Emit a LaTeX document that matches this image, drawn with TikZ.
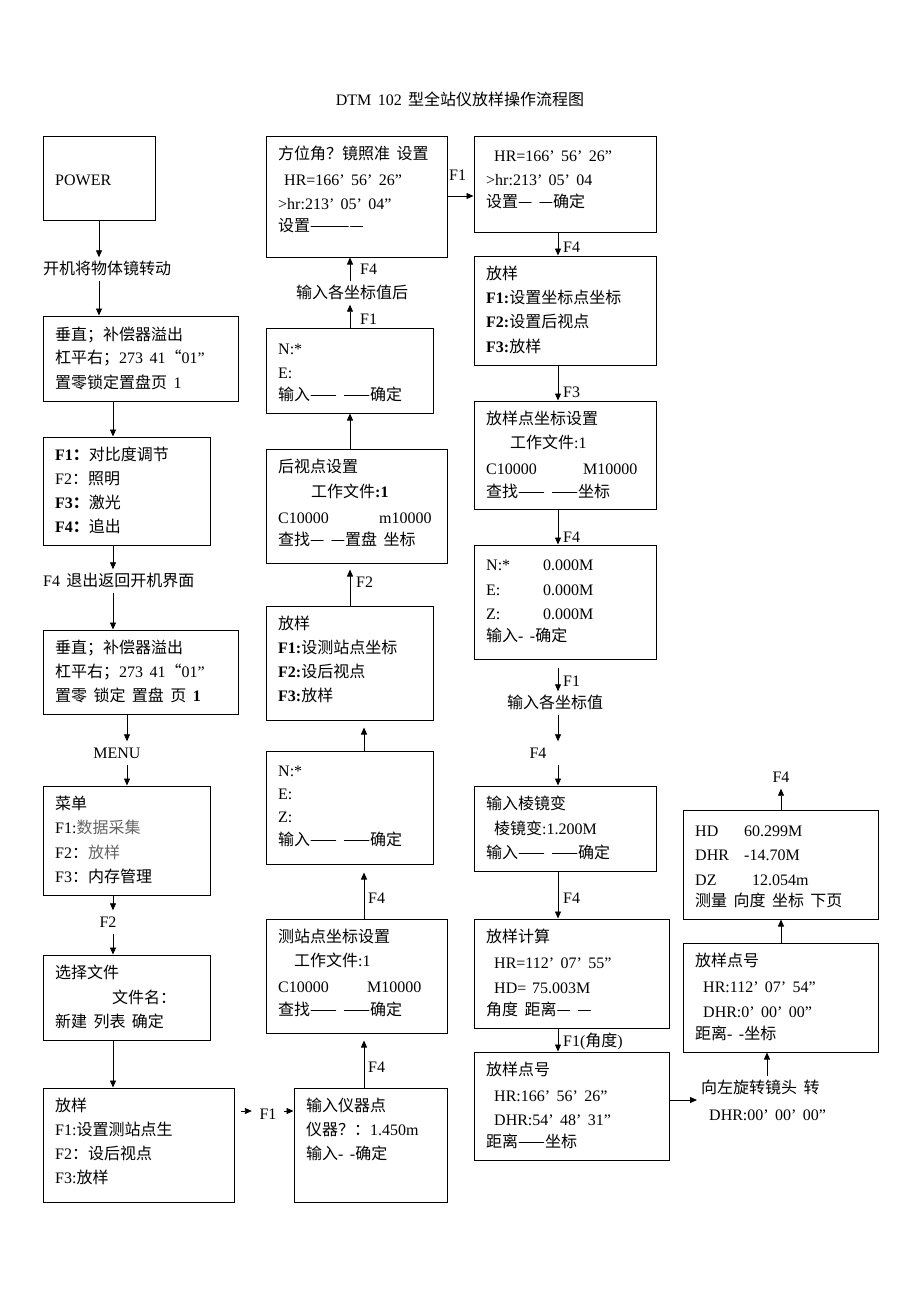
\documentclass[tikz,border=0pt]{standalone}
\usepackage{fontspec}
\usepackage{graphicx}
\usetikzlibrary{arrows.meta,calc}
\setmainfont{Liberation Serif}[WordSpace=1.6]
\newfontfamily\cjk{Noto Sans CJK SC}
\XeTeXinterchartokenstate=1
\newXeTeXintercharclass\cjkclass
\newcount\cjkc
\cjkc="4E00 \loop\XeTeXcharclass\cjkc=\cjkclass \advance\cjkc by 1 \ifnum\cjkc<"A000 \repeat
\cjkc="3000 \loop\XeTeXcharclass\cjkc=\cjkclass \advance\cjkc by 1 \ifnum\cjkc<"3040 \repeat
\cjkc="FF00 \loop\XeTeXcharclass\cjkc=\cjkclass \advance\cjkc by 1 \ifnum\cjkc<"FFF0 \repeat
\XeTeXcharclass"2014=\cjkclass
\XeTeXcharclass"201C=\cjkclass
\XeTeXinterchartoks 0 \cjkclass = {\cjk}
\XeTeXinterchartoks 4095 \cjkclass = {\cjk}
\XeTeXinterchartoks \cjkclass 0 = {\rmfamily}
\XeTeXinterchartoks \cjkclass 4095 = {\rmfamily}
\definecolor{txtgray}{gray}{0.4}
\tikzset{
  every node/.style={font=\fontsize{16pt}{20pt}\selectfont},
  box/.style={draw, line width=1pt, inner sep=0pt},
  txt/.style={inner sep=0pt, text height=17pt, text depth=6pt, anchor=west},
  lab/.style={inner sep=0pt, text height=17pt, text depth=6pt},
  arr/.style={draw, line width=0.8pt, -{Triangle[length=7pt,width=6pt]}}
}
\newcommand\bx[5]{\node[box, minimum width={#4-#2}, minimum height={#5-#3}] (#1) at ({(#2+#4)/2},{(#3+#5)/2}) {};}
\begin{document}
\begin{tikzpicture}[x=1pt,y=-1pt]
\fill[white] (0,0) rectangle (920,1302);
\useasboundingbox (0,0) rectangle (920,1302);
\coordinate (x99) at (99,0);
\coordinate (x113) at (113,0);
\coordinate (x127) at (127,0);
\coordinate (x350) at (350,0);
\coordinate (x364) at (364,0);
\coordinate (x558) at (558,0);
\coordinate (x767) at (767,0);
\coordinate (x781) at (781,0);
\coordinate (y196) at (0,196);
\coordinate (y1100) at (0,1100);
\coordinate (y1111) at (0,1111);

\node[lab] (title) at (460,100) {DTM 102 型全站仪放样操作流程图};

% ---------- column 1 ----------
\bx{pw}{43}{136}{155}{220}
\node[txt] (pw-1) at (55,180) {POWER};
\node[txt] (t1) at (43,269) {开机将物体镜转动};
\bx{v1}{43}{316}{238}{401}
\node[txt] (v1-1) at (55,335) {垂直；补偿器溢出};
\node[txt] (v1-2) at (55,358) {杠平右；273 41“01”};
\node[txt] (v1-3) at (55,383) {置零锁定置盘页 1};
\bx{fk}{43}{437}{210}{545}
\node[txt] (fk-1) at (55,455) {\textbf{F1：}对比度调节};
\node[txt] (fk-2) at (55,479) {F2：照明};
\node[txt] (fk-3) at (55,503) {\textbf{F3：}激光};
\node[txt] (fk-4) at (55,527) {\textbf{F4：}追出};
\node[txt] (t2) at (43,581) {F4 退出返回开机界面};
\bx{v2}{43}{630}{238}{714}
\node[txt] (v2-1) at (55,648) {垂直；补偿器溢出};
\node[txt] (v2-2) at (55,672) {杠平右；273 41“01”};
\node[txt] (v2-3) at (55,696) {置零 锁定 置盘 页 \textbf{1}};
\node[lab] (t3) at (117,753) {MENU};
\bx{mn}{43}{786}{210}{895}
\node[txt] (mn-1) at (55,804) {菜单};
\node[txt] (mn-2) at (55,828) {F1:\textcolor{txtgray}{数据采集}};
\node[txt] (mn-3) at (55,853) {F2：\textcolor{txtgray}{放样}};
\node[txt] (mn-4) at (55,877) {F3：内存管理};
\node[lab] (t4) at (108,922) {F2};
\bx{sf}{43}{955}{210}{1040}
\node[txt] (sf-1) at (55,973) {选择文件};
\node[txt] (sf-2) at (112,998) {文件名：};
\node[txt] (sf-3) at (55,1022) {新建 列表 确定};
\bx{fy1}{43}{1088}{234}{1202}
\node[txt] (fy1-1) at (55,1106) {放样};
\node[txt] (fy1-2) at (55,1130) {F1:设置测站点生};
\node[txt] (fy1-3) at (55,1154) {F2：设后视点};
\node[txt] (fy1-4) at (55,1178) {F3:放样};
\node[lab, inner xsep=7.5pt] (t5) at (268,1114) {F1};

% ---------- column 2 ----------
\bx{yq}{294}{1088}{447}{1202}
\node[txt] (yq-1) at (306,1106) {输入仪器点};
\node[txt] (yq-2) at (306,1130) {仪器？：1.450m};
\node[txt] (yq-3) at (306,1154) {输入- -确定};
\node[txt] (l1) at (368,1067) {F4};
\bx{cz}{266}{919}{447}{1033}
\node[txt] (cz-1) at (278,937) {测站点坐标设置};
\node[txt] (cz-2) at (294,961) {工作文件:1};
\node[txt] (cz-3) at (278,987) {\makebox[89pt][l]{C10000}M10000};
\node[txt] (cz-4) at (278,1010) {查找—— ——确定};
\node[txt] (l2) at (368,898) {F4};
\bx{nez}{266}{751}{433}{864}
\node[txt] (nez-1) at (278,771) {N:*};
\node[txt] (nez-2) at (278,794) {E:};
\node[txt] (nez-3) at (278,817) {Z:};
\node[txt] (nez-4) at (278,840) {输入—— ——确定};
\bx{fy2}{266}{606}{433}{720}
\node[txt] (fy2-1) at (278,624) {放样};
\node[txt] (fy2-2) at (278,648) {\textbf{F1:}设测站点坐标};
\node[txt] (fy2-3) at (278,672) {\textbf{F2:}设后视点};
\node[txt] (fy2-4) at (278,696) {\textbf{F3:}放样};
\node[txt] (l3) at (356,582) {F2};
\bx{hs}{266}{449}{447}{563}
\node[txt] (hs-1) at (278,467) {后视点设置};
\node[txt] (hs-2) at (311,492) {工作文件\textbf{:1}};
\node[txt] (hs-3) at (278,518) {\makebox[101pt][l]{C10000}m10000};
\node[txt] (hs-4) at (278,540) {查找— —置盘 坐标};
\bx{ne}{266}{328}{433}{413}
\node[txt] (ne-1) at (278,349) {N:*};
\node[txt] (ne-2) at (278,373) {E:};
\node[txt] (ne-3) at (278,395) {输入—— ——确定};
\node[txt] (l4) at (360,319) {F1};
\node[lab] (t6) at (352,293) {输入各坐标值后};
\node[txt] (l5) at (360,269) {F4};
\bx{fw}{266}{136}{447}{257}
\node[txt] (fw-1) at (278,154) {方位角？镜照准 设置};
\node[txt] (fw-2) at (284,180) {HR=166’ 56’ 26”};
\node[txt] (fw-3) at (278,204) {>hr:213’ 05’ 04”};
\node[txt] (fw-4) at (278,226) {设置————};
\node[txt] (l6) at (449,175) {F1};

% ---------- column 3 ----------
\bx{hr}{474}{136}{656}{232}
\node[txt] (hr-1) at (494,156) {HR=166’ 56’ 26”};
\node[txt] (hr-2) at (486,180) {>hr:213’ 05’ 04};
\node[txt] (hr-3) at (486,202) {设置— —确定};
\node[txt] (l7) at (563,247) {F4};
\bx{fy3}{474}{256}{656}{365}
\node[txt] (fy3-1) at (486,274) {放样};
\node[txt] (fy3-2) at (486,298) {\textbf{F1:}设置坐标点坐标};
\node[txt] (fy3-3) at (486,322) {\textbf{F2:}设置后视点};
\node[txt] (fy3-4) at (486,347) {\textbf{F3:}放样};
\node[txt] (l8) at (563,392) {F3};
\bx{fz}{474}{401}{656}{509}
\node[txt] (fz-1) at (486,419) {放样点坐标设置};
\node[txt] (fz-2) at (510,443) {工作文件:1};
\node[txt] (fz-3) at (486,469) {\makebox[97pt][l]{C10000}M10000};
\node[txt] (fz-4) at (486,492) {查找—— ——坐标};
\node[txt] (l9) at (563,537) {F4};
\bx{nz}{474}{545}{656}{659}
\node[txt] (nz-1) at (486,565) {\makebox[57pt][l]{N:*}0.000M};
\node[txt] (nz-2) at (486,590) {\makebox[57pt][l]{E:}0.000M};
\node[txt] (nz-3) at (486,614) {\makebox[57pt][l]{Z:}0.000M};
\node[txt] (nz-4) at (486,636) {输入- -确定};
\node[txt] (l10) at (563,681) {F1};
\node[lab] (t7) at (555,703) {输入各坐标值};
\node[lab] (t8) at (538,753) {F4};
\bx{lj}{474}{786}{656}{871}
\node[txt] (lj-1) at (486,804) {输入棱镜变};
\node[txt] (lj-2) at (494,829) {棱镜变:1.200M};
\node[txt] (lj-3) at (486,853) {输入—— ——确定};
\node[txt] (l11) at (563,898) {F4};
\bx{js}{474}{919}{669}{1028}
\node[txt] (js-1) at (486,937) {放样计算};
\node[txt] (js-2) at (494,963) {HR=112’ 07’ 55”};
\node[txt] (js-3) at (494,988) {\makebox[38pt][l]{HD=}75.003M};
\node[txt] (js-4) at (486,1010) {角度 距离— —};
\node[txt] (l12) at (563,1041) {F1(角度)};
\bx{fd3}{474}{1052}{669}{1160}
\node[txt] (fd3-1) at (486,1070) {放样点号};
\node[txt] (fd3-2) at (494,1096) {HR:166’ 56’ 26”};
\node[txt] (fd3-3) at (494,1120) {DHR:54’ 48’ 31”};
\node[txt] (fd3-4) at (486,1142) {距离——坐标};
\node[txt] (t9) at (701,1088) {向左旋转镜头 转};
\node[txt] (t10) at (709,1115) {DHR:00’ 00’ 00”};

% ---------- column 4 ----------
\bx{fd4}{683}{943}{878}{1052}
\node[txt] (fd4-1) at (695,961) {放样点号};
\node[txt] (fd4-2) at (703,987) {HR:112’ 07’ 54”};
\node[txt] (fd4-3) at (703,1012) {DHR:0’ 00’ 00”};
\node[txt] (fd4-4) at (695,1034) {距离- -坐标};
\bx{hd}{683}{810}{878}{919}
\node[txt] (hd-1) at (695,831) {\makebox[49pt][l]{HD}60.299M};
\node[txt] (hd-2) at (695,855) {\makebox[49pt][l]{DHR}-14.70M};
\node[txt] (hd-3) at (695,880) {\makebox[57pt][l]{DZ}12.054m};
\node[txt] (hd-4) at (695,901) {测量 向度 坐标 下页};
\node[lab] (t11) at (781,777) {F4};

% ---------- connectors ----------
\draw[arr] (pw.south) -- (t1.north -| pw.south);
\draw[arr] (t1.south -| pw.south) -- (v1.north -| pw.south);
\draw[arr] (v1.south -| x113) -- (fk.north -| x113);
\draw[arr] (fk.south -| x113) -- (t2.north -| x113);
\draw[arr] (t2.south -| x113) -- (v2.north -| x113);
\draw[arr] (v2.south -| x127) -- (t3.north -| x127);
\draw[arr] (t3.south -| x127) -- (mn.north -| x127);
\draw[arr] (mn.south -| x113) -- (t4.north -| x113);
\draw[arr] (t4.south -| x113) -- (sf.north -| x113);
\draw[arr] (sf.south -| x113) -- (fy1.north -| x113);
\draw[arr] ($(fy1.east |- y1111)+(6,0)$) -- (t5.west |- y1111);
\draw[arr] (t5.east |- y1111) -- (yq.west |- y1111);

\draw[arr] (yq.north -| x364) -- ($(cz.south -| x364)+(0,7)$);
\draw[arr] (cz.north -| x364) -- ($(nez.south -| x364)+(0,8)$);
\draw[arr] (nez.north -| x364) -- ($(fy2.south -| x364)+(0,7)$);
\draw[arr] (fy2.north -| x350) -- ($(hs.south -| x350)+(0,6)$);
\draw[arr] (hs.north -| x350) -- (ne.south -| x350);
\draw[arr] (ne.north -| x350) -- (t6.south -| x350);
\draw[arr] (t6.north -| x350) -- (fw.south -| x350);
\draw[arr] (fw.east |- y196) -- (hr.west |- y196);

\draw[arr] (hr.south -| x558) -- (fy3.north -| x558);
\draw[arr] (fy3.south -| x558) -- (fz.north -| x558);
\draw[arr] (fz.south -| x558) -- (nz.north -| x558);
\draw[arr] ($(nz.south -| x558)+(0,8)$) -- (t7.north -| x558);
\draw[arr] (t7.south -| x558) -- (t8.north -| x558);
\draw[arr] (t8.south -| x558) -- (lj.north -| x558);
\draw[arr] (lj.south -| x558) -- (js.north -| x558);
\draw[arr] (js.south -| x558) -- (fd3.north -| x558);
\draw[arr] (fd3.east |- y1100) -- ($(t9.west |- y1100)+(-4,0)$);

\draw[arr] (t9.north -| x767) -- (fd4.south -| x767);
\draw[arr] (fd4.north -| x781) -- (hd.south -| x781);
\draw[arr] (hd.north -| x781) -- (t11.south -| x781);
\end{tikzpicture}
\end{document}
